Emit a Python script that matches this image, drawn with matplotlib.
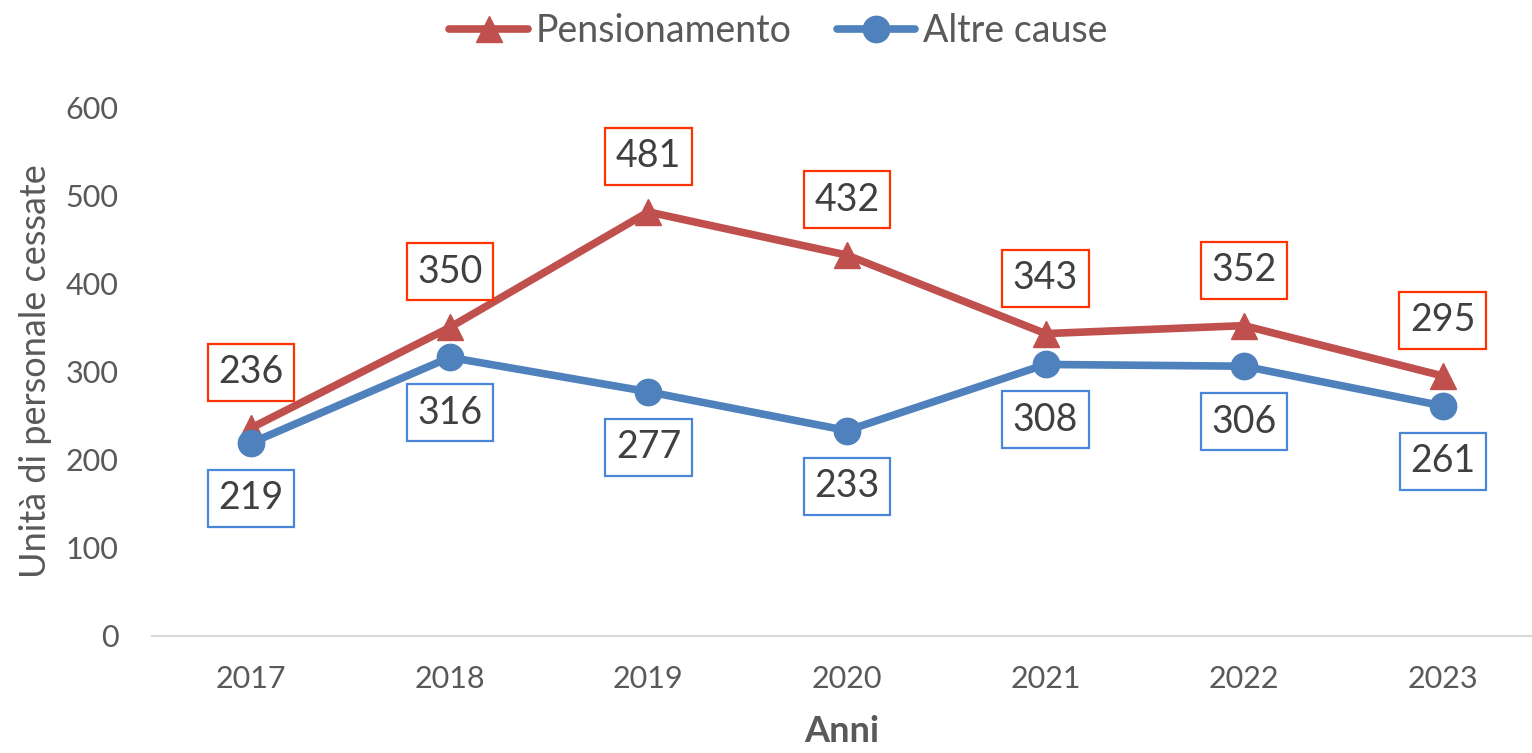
import matplotlib
matplotlib.use("Agg")
from matplotlib import pyplot as plt

anni = ["2017", "2018", "2019", "2020", "2021", "2022", "2023"]
pensionamento = [236, 350, 481, 432, 343, 352, 295]
altre_cause = [219, 316, 277, 233, 308, 306, 261]

plt.rcParams['font.family'] = ['Lato', 'DejaVu Sans']

red = '#C0504D'
blue = '#4F81BD'
text_col = '#404040'
tick_col = '#595959'

fig = plt.figure(figsize=(15.32, 7.53), dpi=100)
ax = fig.add_axes([0.0992, 0.1554, 0.9008, 0.7025])

x = list(range(len(anni)))
ax.plot(x, pensionamento, color=red, lw=5.5, marker='^', ms=19,
        label='Pensionamento', solid_capstyle='round')
ax.plot(x, altre_cause, color=blue, lw=5.5, marker='o', ms=19,
        label='Altre cause', solid_capstyle='round')

for i, v in enumerate(pensionamento):
    ax.annotate(str(v), (i, v), xytext=(0, 40), textcoords='offset points',
                ha='center', va='center', fontsize=27, color=text_col,
                bbox=dict(boxstyle='square,pad=0.28', fc='white', ec='#FF3300', lw=1.6))
for i, v in enumerate(altre_cause):
    ax.annotate(str(v), (i, v), xytext=(0, -40), textcoords='offset points',
                ha='center', va='center', fontsize=27, color=text_col,
                bbox=dict(boxstyle='square,pad=0.28', fc='white', ec='#4A86D8', lw=1.6))

ax.set_xlim(-0.5, 6.45)
ax.set_ylim(0, 600)
ax.set_xticks(x)
ax.set_xticklabels(anni)
ax.set_yticks(range(0, 700, 100))
ax.tick_params(length=0, labelsize=22, labelcolor=tick_col)
ax.tick_params(axis='y', pad=24)
ax.tick_params(axis='x', pad=21)

for s in ['top', 'right', 'left']:
    ax.spines[s].set_visible(False)
ax.spines['bottom'].set_color('#D9D9D9')
ax.spines['bottom'].set_linewidth(1.5)

ax.set_xlabel('Anni', fontsize=26, fontweight='bold', color=tick_col, labelpad=16)
ax.set_ylabel('Unità di personale cessate', fontsize=26, color=tick_col, labelpad=10)

fig.legend(loc='upper center', bbox_to_anchor=(0.508, 1.027), ncol=2, frameon=False,
           fontsize=27, handlelength=2.1, handletextpad=0.2, columnspacing=1.2,
           labelcolor=tick_col)

fig.savefig('out.png', dpi=100)
